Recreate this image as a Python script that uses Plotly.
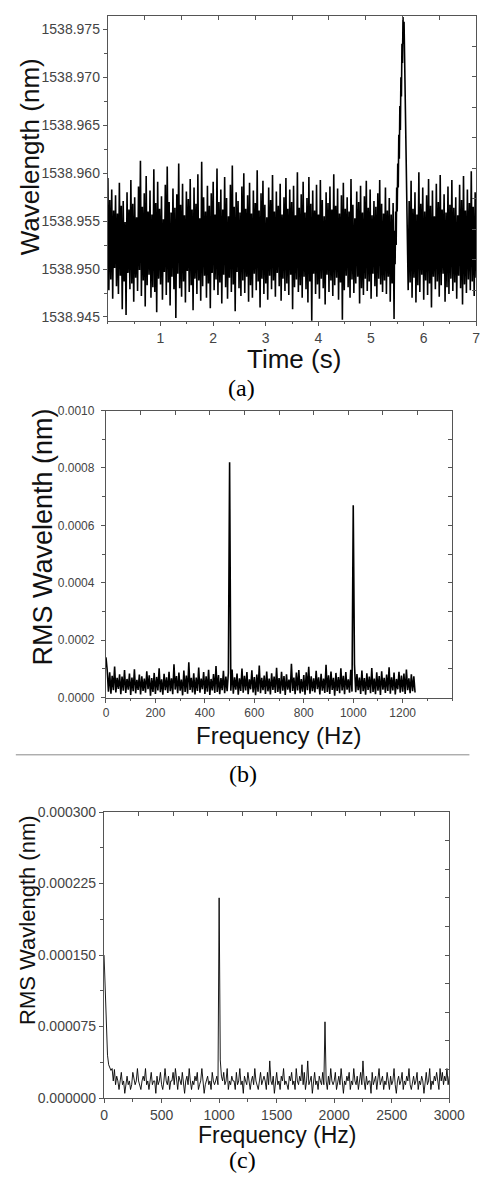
import numpy as np
import plotly.graph_objects as go

# ---------------- (a) wavelength vs time ----------------
wl_before = [
    1538.9595, 1538.9478, 1538.9572, 1538.9489, 1538.9583, 1538.9469, 1538.9561, 1538.9501, 1538.9577, 1538.9482,
    1538.9558, 1538.9474, 1538.9590, 1538.9493, 1538.9566, 1538.9458, 1538.9571, 1538.9487, 1538.9549, 1538.9452,
    1538.9580, 1538.9496, 1538.9562, 1538.9479, 1538.9593, 1538.9485, 1538.9568, 1538.9466, 1538.9575, 1538.9491,
    1538.9554, 1538.9477, 1538.9586, 1538.9499, 1538.9613, 1538.9472, 1538.9565, 1538.9488, 1538.9579, 1538.9461,
    1538.9597, 1538.9483, 1538.9560, 1538.9494, 1538.9582, 1538.9470, 1538.9557, 1538.9481, 1538.9604, 1538.9476,
    1538.9569, 1538.9455, 1538.9591, 1538.9490, 1538.9563, 1538.9484, 1538.9576, 1538.9468, 1538.9552, 1538.9497,
    1538.9588, 1538.9473, 1538.9607, 1538.9486, 1538.9570, 1538.9462, 1538.9559, 1538.9492, 1538.9584, 1538.9479,
    1538.9564, 1538.9449, 1538.9578, 1538.9495, 1538.9610, 1538.9480, 1538.9567, 1538.9471, 1538.9589, 1538.9487,
    1538.9556, 1538.9465, 1538.9581, 1538.9498, 1538.9573, 1538.9476, 1538.9594, 1538.9483, 1538.9562, 1538.9457,
    1538.9585, 1538.9490, 1538.9568, 1538.9474, 1538.9599, 1538.9488, 1538.9553, 1538.9467, 1538.9612, 1538.9482,
    1538.9575, 1538.9493, 1538.9560, 1538.9470, 1538.9587, 1538.9485, 1538.9566, 1538.9459, 1538.9579, 1538.9496,
    1538.9591, 1538.9478, 1538.9557, 1538.9489, 1538.9605, 1538.9473, 1538.9570, 1538.9486, 1538.9583, 1538.9464,
    1538.9562, 1538.9494, 1538.9596, 1538.9481, 1538.9574, 1538.9469, 1538.9555, 1538.9491, 1538.9588, 1538.9476,
    1538.9608, 1538.9484, 1538.9565, 1538.9456, 1538.9580, 1538.9497, 1538.9571, 1538.9480, 1538.9559, 1538.9472,
    1538.9586, 1538.9488, 1538.9600, 1538.9475, 1538.9563, 1538.9492, 1538.9577, 1538.9466, 1538.9590, 1538.9483,
    1538.9558, 1538.9470, 1538.9582, 1538.9495, 1538.9569, 1538.9478, 1538.9603, 1538.9487, 1538.9561, 1538.9460,
    1538.9579, 1538.9490, 1538.9592, 1538.9474, 1538.9567, 1538.9485, 1538.9554, 1538.9468, 1538.9585, 1538.9493,
    1538.9572, 1538.9479, 1538.9598, 1538.9488, 1538.9560, 1538.9471, 1538.9581, 1538.9496, 1538.9566, 1538.9482,
    1538.9589, 1538.9467, 1538.9557, 1538.9490, 1538.9575, 1538.9477, 1538.9595, 1538.9485, 1538.9563, 1538.9473,
    1538.9583, 1538.9494, 1538.9570, 1538.9458, 1538.9587, 1538.9481, 1538.9556, 1538.9489, 1538.9601, 1538.9476,
    1538.9564, 1538.9483, 1538.9578, 1538.9470, 1538.9591, 1538.9492, 1538.9559, 1538.9479, 1538.9574, 1538.9465,
    1538.9596, 1538.9487, 1538.9568, 1538.9445, 1538.9582, 1538.9495, 1538.9561, 1538.9474, 1538.9588, 1538.9484,
    1538.9557, 1538.9469, 1538.9593, 1538.9490, 1538.9572, 1538.9480, 1538.9555, 1538.9463, 1538.9580, 1538.9494,
    1538.9569, 1538.9476, 1538.9586, 1538.9488, 1538.9562, 1538.9472, 1538.9599, 1538.9483, 1538.9566, 1538.9491,
    1538.9584, 1538.9468, 1538.9558, 1538.9486, 1538.9577, 1538.9447, 1538.9590, 1538.9478, 1538.9563, 1538.9493,
    1538.9575, 1538.9481, 1538.9560, 1538.9470, 1538.9594, 1538.9489, 1538.9567, 1538.9475, 1538.9553, 1538.9485,
    1538.9581, 1538.9492, 1538.9570, 1538.9464, 1538.9587, 1538.9480, 1538.9559, 1538.9473, 1538.9576, 1538.9490,
    1538.9592, 1538.9477, 1538.9564, 1538.9487, 1538.9583, 1538.9469, 1538.9556, 1538.9495, 1538.9571, 1538.9482,
    1538.9565, 1538.9471, 1538.9579, 1538.9490, 1538.9593, 1538.9484, 1538.9568, 1538.9476, 1538.9558, 1538.9488,
    1538.9585, 1538.9474, 1538.9561, 1538.9492, 1538.9574, 1538.9466, 1538.9557, 1538.9485, 1538.9569, 1538.9448,
]
ramp_time = [5.45, 5.46, 5.47, 5.48, 5.49, 5.50, 5.51, 5.52, 5.53, 5.54, 5.55,
             5.56, 5.57, 5.58, 5.59, 5.60, 5.61, 5.62, 5.63, 5.64, 5.65, 5.67]
ramp_wl = [1538.9540, 1538.9505, 1538.9560, 1538.9525, 1538.9585, 1538.9560, 1538.9610, 1538.9585,
           1538.9640, 1538.9615, 1538.9670, 1538.9645, 1538.9700, 1538.9680, 1538.9735, 1538.9715,
           1538.9763, 1538.9735, 1538.9758, 1538.9720, 1538.9660, 1538.9575]
wl_after = [
    1538.9535, 1538.9478, 1538.9571, 1538.9486, 1538.9592, 1538.9470, 1538.9563, 1538.9491, 1538.9580, 1538.9465,
    1538.9557, 1538.9483, 1538.9601, 1538.9476, 1538.9568, 1538.9494, 1538.9585, 1538.9468, 1538.9560, 1538.9488,
    1538.9577, 1538.9473, 1538.9594, 1538.9485, 1538.9566, 1538.9460, 1538.9582, 1538.9492, 1538.9555, 1538.9479,
    1538.9589, 1538.9487, 1538.9570, 1538.9471, 1538.9598, 1538.9483, 1538.9562, 1538.9495, 1538.9578, 1538.9466,
    1538.9559, 1538.9481, 1538.9586, 1538.9474, 1538.9567, 1538.9490, 1538.9593, 1538.9477, 1538.9564, 1538.9486,
    1538.9575, 1538.9469, 1538.9556, 1538.9493, 1538.9588, 1538.9480, 1538.9572, 1538.9463, 1538.9597, 1538.9484,
    1538.9561, 1538.9475, 1538.9583, 1538.9489, 1538.9569, 1538.9478, 1538.9602, 1538.9487, 1538.9565, 1538.9472,
    1538.9580, 1538.9491,
]
time_before = np.linspace(0.0, 5.44, len(wl_before))
time_after = np.linspace(5.69, 7.0, len(wl_after))
time_a = np.concatenate([time_before, ramp_time, time_after])
wl_a = np.concatenate([wl_before, ramp_wl, wl_after])

# ---------------- (b) RMS spectrum, 0-1250 Hz ----------------
rms_b = [
    14.0e-5,
    9.5e-5, 2.1e-5, 8.8e-5, 1.4e-5, 7.6e-5, 2.6e-5, 10.8e-5, 1.8e-5, 6.9e-5, 3.0e-5,
    8.1e-5, 1.2e-5, 7.3e-5, 2.4e-5, 9.6e-5, 1.6e-5, 6.5e-5, 2.8e-5, 8.4e-5, 0.9e-5,
    7.0e-5, 2.2e-5, 9.9e-5, 1.5e-5, 6.2e-5, 2.7e-5, 8.0e-5, 1.1e-5, 7.4e-5, 2.3e-5,
    6.6e-5, 1.7e-5, 9.2e-5, 2.9e-5, 7.8e-5, 0.7e-5, 6.8e-5, 2.0e-5, 8.6e-5, 1.3e-5,
    7.2e-5, 2.5e-5, 10.2e-5, 1.9e-5, 6.4e-5, 1.0e-5, 8.3e-5, 2.6e-5, 7.1e-5, 1.6e-5,
    9.0e-5, 2.2e-5, 6.7e-5, 1.2e-5, 11.6e-5, 2.8e-5, 7.5e-5, 1.5e-5, 8.7e-5, 2.4e-5,
    6.3e-5, 0.8e-5, 9.4e-5, 2.0e-5, 7.7e-5, 1.4e-5, 12.3e-5, 2.7e-5, 6.9e-5, 1.8e-5,
    8.5e-5, 1.1e-5, 7.0e-5, 2.3e-5, 10.5e-5, 1.7e-5, 6.6e-5, 2.9e-5, 8.9e-5, 1.3e-5,
    7.4e-5, 2.1e-5, 9.7e-5, 0.9e-5, 6.5e-5, 2.5e-5, 8.2e-5, 1.6e-5, 11.0e-5, 2.0e-5,
    7.9e-5, 1.2e-5, 6.8e-5, 2.6e-5, 9.3e-5, 1.5e-5, 7.3e-5, 2.2e-5, 8.6e-5, 82.0e-5,
    2.4e-5, 9.8e-5, 1.4e-5, 7.1e-5, 2.8e-5, 8.4e-5, 1.0e-5, 6.7e-5, 2.3e-5, 10.1e-5,
    1.7e-5, 7.6e-5, 2.5e-5, 8.9e-5, 1.2e-5, 6.4e-5, 2.9e-5, 9.5e-5, 1.8e-5, 7.2e-5,
    0.8e-5, 8.0e-5, 2.1e-5, 11.2e-5, 1.5e-5, 6.9e-5, 2.6e-5, 7.7e-5, 1.3e-5, 9.1e-5,
    2.2e-5, 6.6e-5, 1.1e-5, 8.5e-5, 2.7e-5, 7.3e-5, 1.6e-5, 10.4e-5, 2.0e-5, 6.8e-5,
    1.4e-5, 9.0e-5, 2.4e-5, 7.5e-5, 0.9e-5, 8.1e-5, 2.8e-5, 6.3e-5, 1.7e-5, 11.8e-5,
    2.3e-5, 7.0e-5, 1.2e-5, 8.7e-5, 2.5e-5, 9.6e-5, 1.5e-5, 6.5e-5, 2.1e-5, 7.9e-5,
    1.0e-5, 8.8e-5, 2.6e-5, 10.7e-5, 1.4e-5, 7.4e-5, 2.2e-5, 6.7e-5, 1.8e-5, 9.3e-5,
    2.9e-5, 7.1e-5, 1.1e-5, 8.3e-5, 2.4e-5, 6.6e-5, 1.6e-5, 11.4e-5, 2.0e-5, 7.8e-5,
    1.3e-5, 9.1e-5, 2.7e-5, 6.9e-5, 0.7e-5, 8.6e-5, 2.3e-5, 7.2e-5, 1.5e-5, 10.2e-5,
    2.5e-5, 7.6e-5, 1.2e-5, 8.9e-5, 2.8e-5, 6.4e-5, 1.7e-5, 9.7e-5, 2.1e-5, 67.0e-5,
    11.5e-5, 1.9e-5, 8.2e-5, 2.6e-5, 7.0e-5, 1.3e-5, 9.4e-5, 2.2e-5, 6.8e-5, 1.0e-5,
    8.5e-5, 2.7e-5, 7.3e-5, 1.5e-5, 10.3e-5, 2.0e-5, 6.6e-5, 1.2e-5, 8.8e-5, 2.4e-5,
    7.5e-5, 0.9e-5, 9.2e-5, 2.8e-5, 6.9e-5, 1.6e-5, 8.0e-5, 2.3e-5, 10.6e-5, 1.4e-5,
    7.1e-5, 2.5e-5, 8.7e-5, 1.1e-5, 6.5e-5, 2.9e-5, 9.0e-5, 1.7e-5, 7.7e-5, 2.1e-5,
    8.4e-5, 1.3e-5, 9.8e-5, 2.6e-5, 6.7e-5, 1.5e-5, 8.1e-5, 2.2e-5, 7.4e-5, 1.8e-5,
]
freq_b = np.arange(0, 1251, 5)

# ---------------- (c) RMS spectrum, 0-3000 Hz ----------------
rms_c = [
    15.0e-5, 11.0e-5, 6.8e-5, 4.5e-5, 3.5e-5, 3.1e-5, 2.9e-5, 3.1e-5, 1.8e-5, 3.0e-5,
    1.4e-5, 2.3e-5, 1.8e-5, 0.9e-5, 1.8e-5, 2.7e-5, 1.4e-5, 1.8e-5, 0.5e-5, 1.8e-5,
    2.3e-5, 1.4e-5, 1.8e-5, 0.9e-5, 1.4e-5, 2.7e-5, 1.8e-5, 1.4e-5, 1.8e-5, 3.1e-5,
    1.8e-5, 1.4e-5, 0.9e-5, 1.8e-5, 2.3e-5, 1.8e-5, 3.1e-5, 1.4e-5, 1.8e-5, 0.9e-5,
    1.8e-5, 2.7e-5, 1.4e-5, 1.8e-5, 1.8e-5, 0.5e-5, 2.3e-5, 1.4e-5, 1.8e-5, 2.7e-5,
    1.4e-5, 0.9e-5, 1.8e-5, 3.1e-5, 1.8e-5, 1.4e-5, 2.3e-5, 0.9e-5, 1.8e-5, 1.8e-5,
    2.7e-5, 1.4e-5, 3.1e-5, 1.8e-5, 0.9e-5, 2.3e-5, 1.8e-5, 1.4e-5, 2.7e-5, 1.8e-5,
    0.5e-5, 1.8e-5, 2.3e-5, 1.4e-5, 3.1e-5, 1.8e-5, 0.9e-5, 1.8e-5, 1.4e-5, 2.3e-5,
    1.8e-5, 2.7e-5, 0.9e-5, 1.4e-5, 1.8e-5, 3.1e-5, 1.8e-5, 0.5e-5, 1.4e-5, 1.8e-5,
    2.3e-5, 1.4e-5, 1.8e-5, 0.9e-5, 2.7e-5, 1.8e-5, 1.4e-5, 1.8e-5, 2.3e-5, 1.4e-5,
    21.0e-5, 4.0e-5, 2.3e-5, 1.8e-5, 2.7e-5, 1.4e-5, 1.8e-5, 3.1e-5, 0.9e-5, 1.8e-5,
    1.4e-5, 2.3e-5, 1.8e-5, 1.8e-5, 0.9e-5, 2.7e-5, 1.4e-5, 1.8e-5, 3.1e-5, 1.4e-5,
    1.8e-5, 0.5e-5, 2.3e-5, 1.8e-5, 1.4e-5, 2.7e-5, 1.8e-5, 0.9e-5, 1.8e-5, 2.3e-5,
    1.4e-5, 3.1e-5, 1.8e-5, 1.4e-5, 0.9e-5, 1.8e-5, 2.7e-5, 1.4e-5, 1.8e-5, 2.3e-5,
    1.8e-5, 0.9e-5, 2.7e-5, 1.4e-5, 3.9e-5, 1.8e-5, 1.4e-5, 2.3e-5, 0.5e-5, 1.8e-5,
    2.7e-5, 1.4e-5, 1.8e-5, 0.9e-5, 2.3e-5, 1.8e-5, 3.1e-5, 1.4e-5, 1.8e-5, 1.4e-5,
    0.9e-5, 2.3e-5, 1.8e-5, 2.7e-5, 1.4e-5, 1.8e-5, 0.9e-5, 3.1e-5, 1.8e-5, 1.4e-5,
    2.3e-5, 1.8e-5, 3.5e-5, 1.4e-5, 2.7e-5, 0.9e-5, 1.8e-5, 3.9e-5, 1.4e-5, 1.8e-5,
    2.3e-5, 0.5e-5, 1.8e-5, 2.7e-5, 1.4e-5, 1.8e-5, 0.9e-5, 2.3e-5, 1.8e-5, 1.4e-5,
    2.7e-5, 1.4e-5, 8.0e-5, 1.8e-5, 0.9e-5, 2.3e-5, 1.4e-5, 3.1e-5, 1.8e-5, 1.4e-5,
    1.8e-5, 2.7e-5, 0.9e-5, 1.8e-5, 2.3e-5, 1.4e-5, 3.1e-5, 1.8e-5, 0.5e-5, 1.8e-5,
    1.4e-5, 2.3e-5, 1.8e-5, 2.7e-5, 0.9e-5, 1.8e-5, 1.4e-5, 3.1e-5, 1.8e-5, 1.4e-5,
    2.3e-5, 0.9e-5, 1.8e-5, 2.7e-5, 1.4e-5, 3.9e-5, 1.8e-5, 0.9e-5, 2.3e-5, 1.4e-5,
    1.8e-5, 1.8e-5, 0.5e-5, 2.7e-5, 1.4e-5, 1.8e-5, 2.3e-5, 0.9e-5, 1.8e-5, 3.1e-5,
    1.4e-5, 1.8e-5, 2.3e-5, 0.9e-5, 1.8e-5, 1.4e-5, 2.7e-5, 1.8e-5, 0.9e-5, 2.3e-5,
    1.4e-5, 1.8e-5, 3.1e-5, 1.4e-5, 0.5e-5, 1.8e-5, 2.3e-5, 1.4e-5, 1.8e-5, 2.7e-5,
    0.9e-5, 1.8e-5, 1.4e-5, 2.3e-5, 1.8e-5, 3.1e-5, 1.4e-5, 0.9e-5, 1.8e-5, 2.3e-5,
    1.4e-5, 1.8e-5, 2.7e-5, 0.9e-5, 1.8e-5, 1.4e-5, 2.3e-5, 1.8e-5, 0.5e-5, 1.8e-5,
    2.7e-5, 1.4e-5, 1.8e-5, 3.1e-5, 0.9e-5, 1.8e-5, 1.4e-5, 2.3e-5, 1.8e-5, 2.7e-5,
    1.4e-5, 0.9e-5, 3.1e-5, 1.8e-5, 2.7e-5, 1.4e-5, 2.3e-5, 1.8e-5, 3.1e-5, 1.4e-5,
    2.3e-5,
]
freq_c = np.arange(0, 3001, 10)

# ---------------- figure ----------------
# the page body shifts the figure 8 px right and down; size it to end at the window edge
OFF = 8
W, H = 495 - OFF, 1186 - OFF
def fx(px):
    return min(1.0, max(0.0, (px - OFF) / W))
def fy(py):
    return min(1.0, max(0.0, 1 - (py - OFF) / H))

FONT = "Liberation Sans, Arial, sans-serif"
AX = "#555555"
TICKC = "#444444"

fig = go.Figure()
fig.add_trace(go.Scatter(x=time_a, y=wl_a, mode="lines", line=dict(color="#000000", width=1.6),
                         xaxis="x", yaxis="y", showlegend=False))
fig.add_trace(go.Scatter(x=freq_b, y=rms_b, mode="lines", line=dict(color="#000000", width=1.6),
                         xaxis="x2", yaxis="y2", showlegend=False))
fig.add_trace(go.Scatter(x=freq_c, y=rms_c, mode="lines", line=dict(color="#000000", width=0.9),
                         xaxis="x3", yaxis="y3", showlegend=False))
# empty traces so that the inner-tick top/right axes get drawn
for xa, ya in [("x4", "y"), ("x", "y4"), ("x5", "y2"), ("x2", "y5"), ("x6", "y3"), ("x3", "y6")]:
    fig.add_trace(go.Scatter(x=[None], y=[None], mode="lines", xaxis=xa, yaxis=ya,
                             showlegend=False, hoverinfo="skip"))

def base_axis(**kw):
    d = dict(showgrid=False, zeroline=False, showline=True, linecolor=AX, linewidth=1.3,
             mirror=True, ticks="outside", ticklen=4, tickwidth=1, tickcolor=AX,
             tickfont=dict(family=FONT, size=14, color=TICKC))
    d.update(kw)
    return d

def mirror_axis(**kw):
    d = dict(showgrid=False, zeroline=False, showline=True, linecolor=AX, linewidth=1.3,
             ticks="inside", ticklen=4, tickwidth=1, tickcolor=AX, showticklabels=False)
    d.update(kw)
    return d

dom_a = dict(x=[fx(108), fx(492)], y=[fy(317), fy(8)])
dom_b = dict(x=[fx(106), fx(467)], y=[fy(699), fy(408)])
dom_c = dict(x=[fx(104), fx(464)], y=[fy(1105), fy(815)])

ra_x = [0, 7]
ra_y = [1538.9446, 1538.9764]
rb_x = [0, 1400]
rb_y = [0, 0.001]
rc_x = [0, 3000]
rc_y = [0, 0.0003]

layout = dict(
    width=W, height=H, margin=dict(l=0, r=0, t=0, b=0), autosize=False,
    paper_bgcolor="white", plot_bgcolor="white", showlegend=False,
    # (a)
    xaxis=base_axis(domain=dom_a["x"], anchor="y", range=ra_x, tickvals=[1, 2, 3, 4, 5, 6, 7],
                    minor=dict(ticks="outside", ticklen=2.5, tickcolor=AX, dtick=0.5, tick0=0)),
    yaxis=base_axis(domain=dom_a["y"], anchor="x", range=ra_y, tick0=1538.945, dtick=0.005,
                    tickformat=".3f",
                    minor=dict(ticks="outside", ticklen=2.5, tickcolor=AX, dtick=0.0025, tick0=1538.945)),
    xaxis4=mirror_axis(overlaying="x", anchor="y", side="top", range=ra_x, tick0=0, dtick=0.7),
    yaxis4=mirror_axis(overlaying="y", anchor="x", side="right", range=ra_y, tick0=ra_y[0],
                       dtick=(ra_y[1] - ra_y[0]) / 10),
    # (b)
    xaxis2=base_axis(domain=dom_b["x"], anchor="y2", range=rb_x,
                     tickvals=[0, 200, 400, 600, 800, 1000, 1200],
                     tickfont=dict(family=FONT, size=12, color=TICKC),
                     minor=dict(ticks="outside", ticklen=2.5, tickcolor=AX, dtick=100, tick0=0)),
    yaxis2=base_axis(domain=dom_b["y"], anchor="x2", range=rb_y, tick0=0, dtick=0.0002,
                     tickformat=".4f", tickfont=dict(family=FONT, size=12, color=TICKC),
                     ticklabelstandoff=4,
                     minor=dict(ticks="outside", ticklen=2.5, tickcolor=AX, dtick=0.0001, tick0=0)),
    xaxis5=mirror_axis(overlaying="x2", anchor="y2", side="top", range=rb_x, tick0=0, dtick=140),
    yaxis5=mirror_axis(overlaying="y2", anchor="x2", side="right", range=rb_y, tick0=0, dtick=0.0001),
    # (c)
    xaxis3=base_axis(domain=dom_c["x"], anchor="y3", range=rc_x, tick0=0, dtick=500,
                     tickfont=dict(family=FONT, size=14, color=TICKC),
                     minor=dict(ticks="outside", ticklen=2.5, tickcolor=AX, dtick=250, tick0=0)),
    yaxis3=base_axis(domain=dom_c["y"], anchor="x3", range=rc_y, tick0=0, dtick=0.000075,
                     tickformat=".6f", tickfont=dict(family=FONT, size=14, color=TICKC),
                     minor=dict(ticks="outside", ticklen=2.5, tickcolor=AX, dtick=0.0000375, tick0=0)),
    xaxis6=mirror_axis(overlaying="x3", anchor="y3", side="top", range=rc_x, tick0=0, dtick=300),
    yaxis6=mirror_axis(overlaying="y3", anchor="x3", side="right", range=rc_y, tick0=0, dtick=0.00003),
)
fig.update_layout(**layout)

def title(text, px, py, size, angle=0, family=FONT, color="#111111"):
    fig.add_annotation(text=text, x=fx(px), y=fy(py), xref="paper", yref="paper",
                       xanchor="center", yanchor="middle", textangle=angle, showarrow=False,
                       font=dict(family=family, size=size, color=color))

SERIF = "Liberation Serif, Times New Roman, serif"
title("Wavelength (nm)", 27, 151, 26, -90)
title("Time (s)", 302, 356, 26)
title("(a)", 247, 385, 24, family=SERIF, color="#000000")
title("RMS Wavelenth (nm)", 40, 536, 27, -90)
title("Frequency (Hz)", 286, 737, 24)
title("(b)", 249, 776, 24, family=SERIF, color="#000000")
title("RMS Wavlength (nm)", 24, 925, 22, -90)
title("Frequency (Hz)", 284, 1142, 23)
title("(c)", 248, 1168, 24, family=SERIF, color="#000000")

fig.add_shape(type="line", xref="paper", yref="paper", x0=fx(12), x1=fx(485), y0=fy(757), y1=fy(757),
              line=dict(color="#8a8a8a", width=1))

fig.write_html("out.html", config={"displayModeBar": False})
